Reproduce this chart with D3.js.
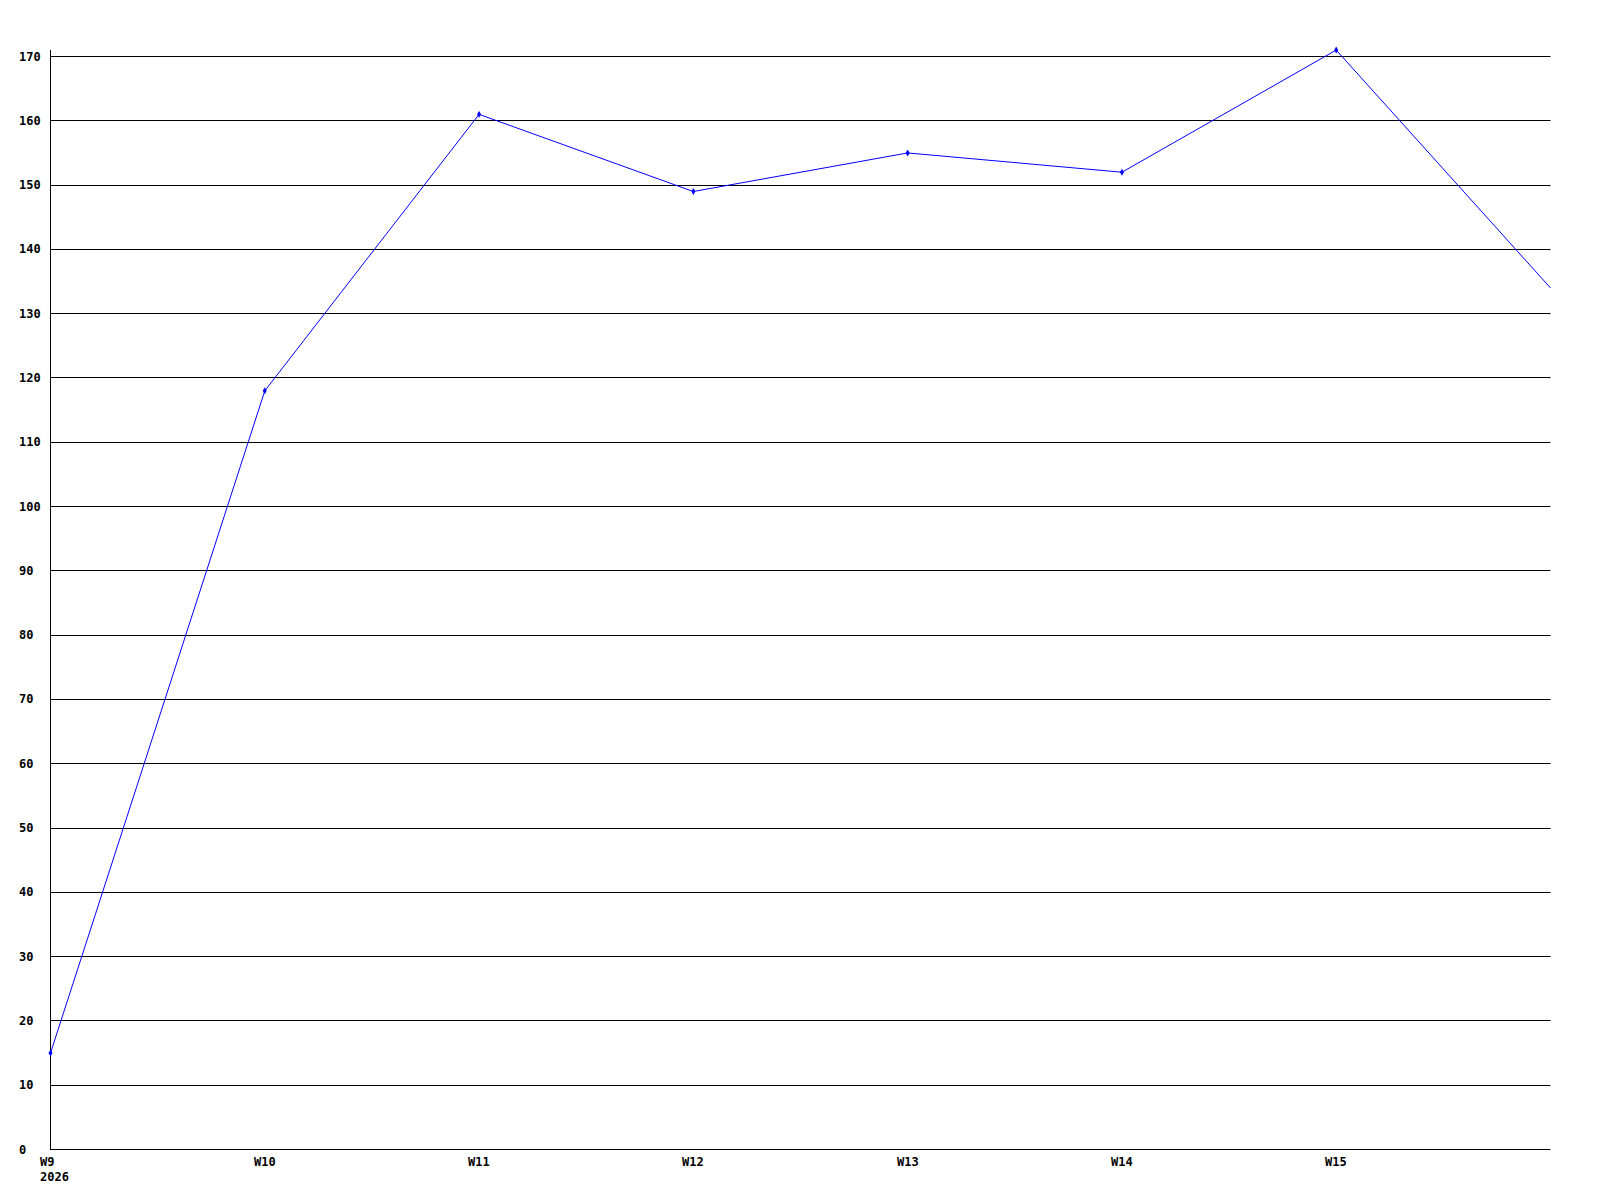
<!DOCTYPE html>
<html><head><meta charset="utf-8">
<script src="https://cdn.jsdelivr.net/npm/d3@7"></script>
<style>
html,body{margin:0;padding:0;background:#fff;}
svg{display:block;}
text{font-family:"DejaVu Sans Mono","Liberation Mono",monospace;font-weight:bold;font-size:12px;fill:#000;}
</style></head>
<body>
<svg id="chart" width="1600" height="1200"></svg>
<script>
const weeks = ["W9","W10","W11","W12","W13","W14","W15","W16"];
const tickLabels = ["W9","W10","W11","W12","W13","W14","W15"];
const yearLabel = "2026";
const values = [15,118,161,149,155,152,171,134];
const yTicks = [0,10,20,30,40,50,60,70,80,90,100,110,120,130,140,150,160,170];

const svg = d3.select("#chart");
const x = d3.scalePoint().domain(weeks).range([50.5, 1550.5]);
const y = d3.scaleLinear().domain([0,170]).range([1149.5, 56.5]);

// grid lines
svg.append("g").selectAll("line").data(yTicks.filter(d=>d>0)).join("line")
  .attr("x1", 50.5).attr("x2", 1550.5)
  .attr("y1", d=>Math.round(y(d)-0.5)+0.5).attr("y2", d=>Math.round(y(d)-0.5)+0.5)
  .attr("stroke","#000").attr("stroke-width",1);

// axes
svg.append("line").attr("x1",50.5).attr("x2",50.5).attr("y1",50).attr("y2",1150).attr("stroke","#000");
svg.append("line").attr("x1",50).attr("x2",1550.5).attr("y1",1149.5).attr("y2",1149.5).attr("stroke","#000");

// y labels
svg.append("g").selectAll("text").data(yTicks).join("text")
  .attr("x", 19).attr("y", d=>Math.round(y(d))+4)
  .attr("text-anchor","start").text(d=>d);

// x labels
svg.append("g").selectAll("text").data(tickLabels).join("text")
  .attr("x", d=>Math.round(x(d))-11).attr("y", 1166).text(d=>d);
svg.append("text").attr("x", Math.round(x(weeks[0]))-11).attr("y", 1181).text(yearLabel);

// line
const line = d3.line().x((d,i)=>x(weeks[i])).y(d=>y(d));
svg.append("path").datum(values).attr("d", line)
  .attr("fill","none").attr("stroke","#0000ff").attr("stroke-width",1);

// markers
svg.append("g").selectAll("path").data(values.slice(0,7)).join("path")
  .attr("transform",(d,i)=>`translate(${x(weeks[i])},${y(d)})`)
  .attr("d", d3.symbol(d3.symbolDiamond, 14))
  .attr("fill","#0000ff");
</script>
</body></html>
